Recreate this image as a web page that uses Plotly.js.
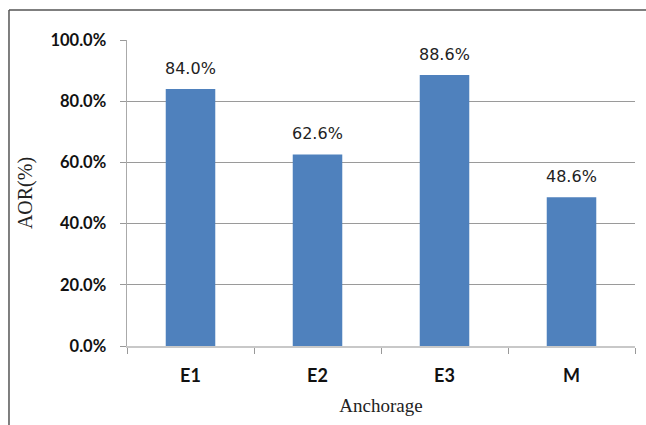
<!DOCTYPE html>
<html>
<head>
<meta charset="utf-8">
<script src="https://cdn.plot.ly/plotly-3.0.1.min.js"></script>
<style>html,body{margin:0;padding:0;background:#fff;}#chart{width:646px;height:425px;}</style>
</head>
<body>
<div id="chart"></div>
<script>
const categories = ["E1", "E2", "E3", "M"];
const aorValues = [0.840, 0.626, 0.886, 0.486];
const valueLabels = ["84.0%", "62.6%", "88.6%", "48.6%"];

const trace = {
  type: "bar",
  x: categories,
  y: aorValues,
  marker: {color: "#4f81bd"},
  width: 0.39,
  hoverinfo: "none"
};

const annotations = categories.map((c, i) => ({
  x: c, y: aorValues[i], xref: "x", yref: "y",
  text: valueLabels[i], showarrow: false,
  yanchor: "bottom", yshift: 9,
  font: {family: "DejaVu Sans", size: 16, color: "#222"}
}));

const layout = {
  width: 646, height: 425,
  margin: {l: 127, r: 11, t: 40, b: 79},
  paper_bgcolor: "#fff", plot_bgcolor: "#fff",
  showlegend: false,
  xaxis: {
    type: "category",
    tickson: "boundaries",
    ticks: "outside", ticklen: 6, tickcolor: "#999", tickwidth: 1,
    showline: true, linecolor: "#c8c8c8", linewidth: 1.5,
    showgrid: false,
    tickfont: {family: "Lato", size: 18, color: "#111", weight: "bold"},
    ticklabelstandoff: 13,
    title: {text: "Anchorage", font: {family: "Liberation Serif", size: 19, color: "#222"}, standoff: 13}
  },
  yaxis: {
    range: [0, 1], dtick: 0.2, tick0: 0,
    tickformat: ".1%",
    ticks: "outside", ticklen: 6, tickcolor: "#999",
    showline: true, linecolor: "#aaa", linewidth: 1.5,
    showgrid: true, gridcolor: "#9a9a9a", gridwidth: 1,
    zeroline: false,
    tickfont: {family: "Lato", size: 16.5, color: "#111", weight: "bold"},
    ticklabelstandoff: 10,
    title: {text: "AOR(%)", font: {family: "Liberation Serif", size: 20, color: "#222"}, standoff: 12}
  },
  annotations: annotations,
  shapes: [
    {type: "line", xref: "paper", yref: "paper", x0: -0.2323, x1: 1.1, y0: 1.098, y1: 1.098, line: {color: "#555", width: 1.5}},
    {type: "line", xref: "paper", yref: "paper", x0: -0.2323, x1: -0.2323, y0: 1.098, y1: -0.3, line: {color: "#555", width: 1.5}}
  ]
};

Plotly.newPlot("chart", [trace], layout, {staticPlot: true, displayModeBar: false});
</script>
</body>
</html>
